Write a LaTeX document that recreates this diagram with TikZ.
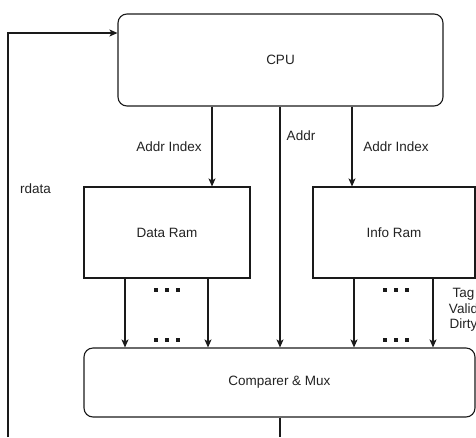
\documentclass[tikz,border=0pt]{standalone}
\usepackage{fontspec}
\setmainfont{Liberation Sans}
\usetikzlibrary{arrows.meta}
\definecolor{ln}{HTML}{1A1A1A}
\definecolor{tx}{HTML}{222222}
\tikzset{
  box/.style={draw=ln, line width=1.1pt, minimum width=#1, inner sep=0pt},
  rbox/.style={draw=ln, line width=1.1pt, rounded corners=9pt, inner sep=0pt},
  arr/.style={draw=ln, line width=1.1pt, -{Stealth[length=8pt,width=7pt,inset=2pt]}},
  ln/.style={draw=ln, line width=1.1pt},
  lbl/.style={text=tx, font=\fontsize{13.5}{16}\selectfont, inner sep=0pt},
  dot/.style={fill=ln, draw=none, minimum width=4pt, minimum height=3.6pt, inner sep=0pt}
}
\begin{document}
\begin{tikzpicture}[x=1pt,y=-1pt]
\useasboundingbox (0,0) rectangle (476,437);
% boxes
\node[rbox, minimum width=325pt, minimum height=92pt, lbl] (cpu) at (280.5,60) {CPU};
\node[box=166pt, minimum height=91pt, lbl, draw=ln, line width=1.1pt] (dr) at (167,232.5) {Data Ram};
\node[box=162pt, minimum height=91pt, lbl, draw=ln, line width=1.1pt] (ir) at (394,232.5) {Info Ram};
\node[rbox, minimum width=391pt, minimum height=69pt, lbl] (cmp) at (279.5,382.5) {Comparer \& Mux};
% x positions
\coordinate (xa) at (212,0);
\coordinate (xm) at (280,0);
\coordinate (xb) at (352,0);
\coordinate (d1) at (125,0);
\coordinate (d2) at (208,0);
\coordinate (i1) at (354,0);
\coordinate (i2) at (433,0);
\coordinate (lb) at (8,437);
\coordinate (ly) at (0,33);
\coordinate (out) at (280,437);
% connectors
\draw[arr] (xa |- cpu.south) -- (xa |- dr.north);
\draw[arr] (xb |- cpu.south) -- (xb |- ir.north);
\draw[arr] (xm |- cpu.south) -- (xm |- cmp.north);
\draw[arr] (d1 |- dr.south) -- (d1 |- cmp.north);
\draw[arr] (d2 |- dr.south) -- (d2 |- cmp.north);
\draw[arr] (i1 |- ir.south) -- (i1 |- cmp.north);
\draw[arr] (i2 |- ir.south) -- (i2 |- cmp.north);
\draw[arr] (lb) |- (ly -| cpu.west);
\draw[ln] (xm |- cmp.south) -- (out);
% dots
\foreach \x in {155.5,166.5,177.5}{
  \node[dot] at (\x,290) {};
  \node[dot] at (\x,340) {};
}
\foreach \x in {385,396,407}{
  \node[dot] at (\x,290) {};
  \node[dot] at (\x,340) {};
}
% labels
\node[lbl] (l1) at (169,147) {Addr Index};
\node[lbl] (l2) at (396,147) {Addr Index};
\node[lbl] (l3) at (301,136) {Addr};
\node[lbl] (l4) at (35.5,189) {rdata};
\node[lbl, align=center] (l5) at (463.5,310) {Tag\\[-0.5pt]Valid\\[-0.5pt]Dirty};
\end{tikzpicture}
\end{document}
